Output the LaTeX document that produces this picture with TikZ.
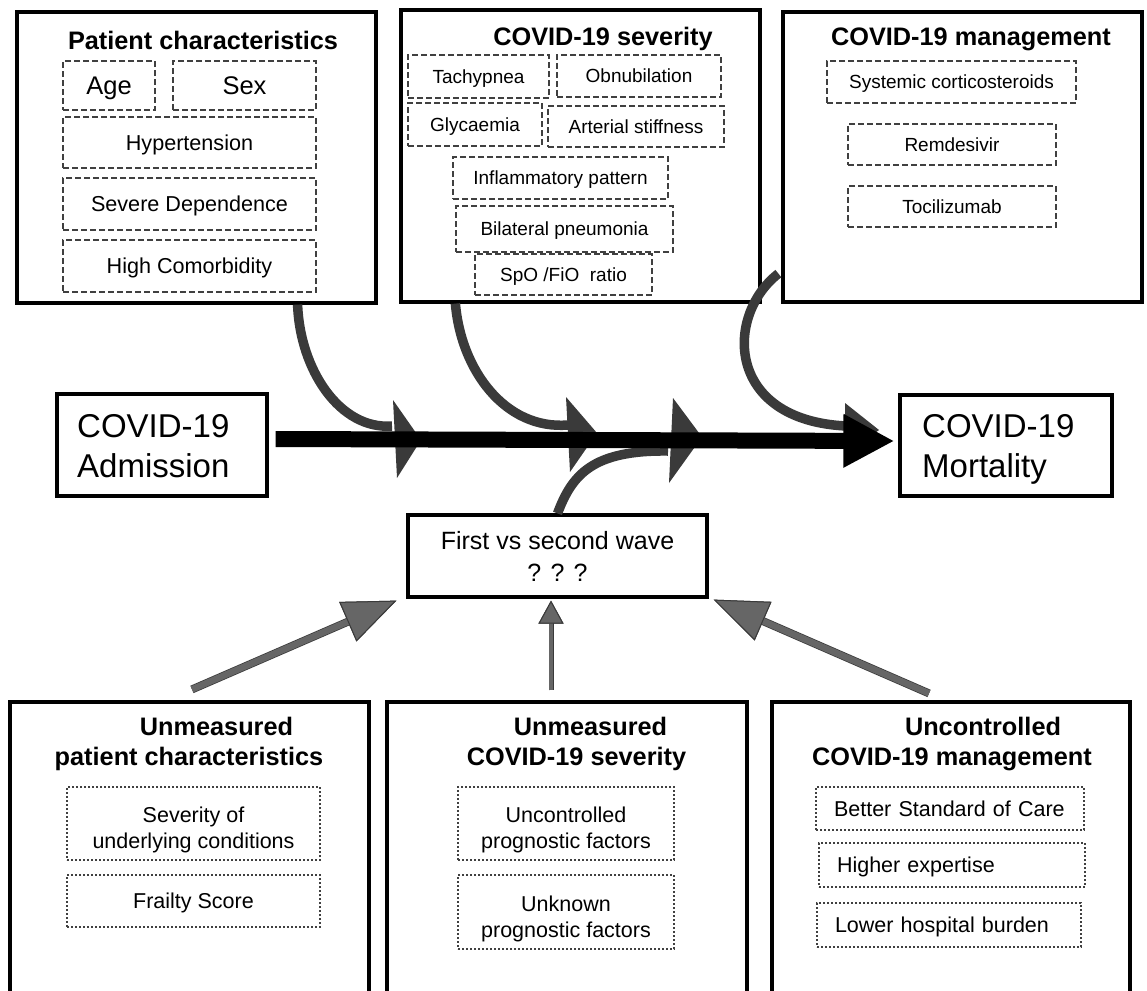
\documentclass[tikz,border=0pt]{standalone}
\usepackage{fontspec}
\setmainfont{Liberation Sans}
\usetikzlibrary{arrows.meta}
\definecolor{D1}{RGB}{58,58,58}
\definecolor{G1}{RGB}{102,102,102}
\definecolor{L1}{RGB}{64,64,64}

\begin{document}
\begin{tikzpicture}[x=1pt,y=-1pt,
    panel/.style={draw, line width=3.2pt, inner sep=0pt},
    head/.style={font=\bfseries\fontsize{25.3}{30.5}\selectfont, inner sep=0pt, align=center},
    big/.style={font=\fontsize{33}{40.5}\selectfont, inner sep=0pt, align=left},
    tag/.style={draw=L1, line width=1.3pt, dash pattern=on 6pt off 3pt, inner sep=0pt, text height=13.7pt, text depth=0pt, font=\fontsize{19}{23}\selectfont},
    tagl/.style={tag, text height=15.6pt, font=\fontsize{21.6}{26}\selectfont},
    tagxl/.style={tag, text height=18.4pt, font=\fontsize{25.5}{30}\selectfont},
    hint/.style={draw=L1, line width=1.3pt, dash pattern=on 2pt off 2pt, inner sep=0pt, align=center, font=\fontsize{21.5}{26}\selectfont},
    cause/.style={draw=D1, line width=9.5pt},
    barb/.style={fill=D1},
    push/.style={draw=G1, line width=#1, preaction={draw=D1, line width=#1+1.5pt}}
  ]
\useasboundingbox (0,0) rectangle (1147,990);

\node[panel, minimum width=359pt, minimum height=291pt] (pc) at (196.5,157.5) {};
\node[head] (pctitle) at (203,40) {Patient characteristics};
\node[tagxl, minimum width=92pt, minimum height=49pt] (age) at (109,85.5) {Age};
\node[tagxl, minimum width=143pt, minimum height=49pt] (sex) at (244.5,85.5) {Sex};
\node[tagl, minimum width=253pt, minimum height=51pt] (hyp) at (189.5,142.5) {Hypertension};
\node[tagl, minimum width=253pt, minimum height=52pt] (dep) at (189.5,204) {Severe Dependence};
\node[tagl, minimum width=253pt, minimum height=52pt] (com) at (189.5,266) {High Comorbidity};

\node[panel, minimum width=359pt, minimum height=292pt] (sev) at (580.5,156) {};
\node[head] (sevtitle) at (603,39) {COVID-19 severity};
\node[tag, minimum width=141pt, minimum height=43pt] (tach) at (478.5,76.5) {Tachypnea};
\node[tag, minimum width=164pt, minimum height=42pt] (obn) at (639,76) {Obnubilation};
\node[tag, minimum width=134pt, minimum height=43pt] (gly) at (475,124.5) {Glycaemia};
\node[tag, minimum width=176pt, minimum height=41pt] (art) at (636,126.5) {Arterial stiffness};
\node[tag, minimum width=215pt, minimum height=42pt] (infl) at (560.5,178) {Inflammatory pattern};
\node[tag, minimum width=217pt, minimum height=46pt] (pneu) at (564.5,229) {Bilateral pneumonia};
\node[tag, minimum width=177pt, minimum height=41pt] (spo) at (563.5,274.5) {SpO /FiO\ \ ratio};

\node[panel, minimum width=359pt, minimum height=290pt] (man) at (962.5,157) {};
\node[head] (mantitle) at (971,39.5) {COVID-19 management};
\node[tag, minimum width=249pt, minimum height=42pt] (cort) at (951.5,82) {Systemic corticosteroids};
\node[tag, minimum width=208pt, minimum height=41pt] (rem) at (952,144.5) {Remdesivir};
\node[tag, minimum width=208pt, minimum height=41pt] (toc) at (952,206.5) {Tocilizumab};

\node[panel, minimum width=210pt, minimum height=102pt] (adm) at (162,445) {};
\node[big, anchor=north west] (admtext) at (77,414) {COVID-19\\Admission};
\node[panel, minimum width=212pt, minimum height=101pt] (mort) at (1006,445.5) {};
\node[big, anchor=north west] (morttext) at (922,414) {COVID-19\\Mortality};

\node[panel, minimum width=299pt, minimum height=82pt, font=\fontsize{25}{32}\selectfont, align=center] (wave) at (557.5,556) {First vs second wave\\? ? ?};

\node[panel, minimum width=359pt, minimum height=308pt] (up) at (189.5,856) {};
\node[head] (uptitle) at (189,744) {\hspace*{55pt}Unmeasured\\patient characteristics};
\node[hint, minimum width=253pt, minimum height=73pt] (cond) at (193.5,823.5) {\rule{0pt}{29pt}Severity of\\underlying conditions};
\node[hint, minimum width=253pt, minimum height=52pt, text height=15.5pt, text depth=0pt] (frail) at (193.5,901) {Frailty Score};

\node[panel, minimum width=360pt, minimum height=308pt] (us) at (567,856) {};
\node[head] (ustitle) at (576.5,744) {\hspace*{28pt}Unmeasured\\COVID-19 severity};
\node[hint, minimum width=216pt, minimum height=73pt] (unc) at (566,823.5) {\rule{0pt}{29pt}Uncontrolled\\prognostic factors};
\node[hint, minimum width=216pt, minimum height=74pt] (unk) at (566,912) {\rule{0pt}{29pt}Unknown\\prognostic factors};

\node[panel, minimum width=358pt, minimum height=308pt] (um) at (951,856) {};
\node[head] (umtitle) at (952,744) {\hspace*{62pt}Uncontrolled\\COVID-19 management};
\node[hint, align=left, text width=232pt, inner xsep=18pt, text height=15.5pt, text depth=0pt, minimum height=43pt] (soc) at (950,808.5) {Better Standard of Care};
\node[hint, align=left, text width=230pt, inner xsep=18pt, text height=15.5pt, text depth=0pt, minimum height=44pt] (expt) at (952,865) {Higher expertise};
\node[hint, align=left, text width=228pt, inner xsep=18pt, text height=15.5pt, text depth=0pt, minimum height=44pt] (load) at (949,925) {Lower hospital burden};

\coordinate (c1) at (392,426);
\coordinate (c2) at (568,425);
\coordinate (c3) at (668,451);
\coordinate (c4) at (846,426);
\draw[cause] ([xshift=-80pt]pc.south east) .. controls (300,370) and (340,430) .. (c1);
\draw[cause] ([xshift=56pt]sev.south west) .. controls (461,370) and (505,430) .. (c2);
\draw[cause] (wave.north) .. controls (572,475) and (592,450) .. (c3);
\draw[cause] ([shift={(-3pt,30pt)}]man.south west) .. controls (725,315) and (725,420) .. (c4);
\fill[barb] (393,400) -- (397,478) -- (421,440) -- cycle;
\fill[barb] (566,397) -- (570,472) -- (597,433) -- cycle;
\fill[barb] (673,398) -- (669,483) -- (702,437) -- cycle;
\fill[barb] (845,403) -- (845,455) -- (879,430) -- cycle;
\draw[line width=16pt, -{Triangle[length=51pt,width=50pt]}] ([shift={(7pt,6pt)}]adm.east) -- ([shift={(-4pt,4.5pt)}]mort.west);

\draw[push=6.5pt, -{Triangle[length=53pt,width=43pt,color=D1,fill=G1,line width=1pt]}] ([shift={(2.5pt,11pt)}]up.north) -- ([shift={(-10pt,-2pt)}]wave.south west);
\draw[push=3.5pt, -{Triangle[length=23pt,width=25pt,color=D1,fill=G1,line width=1pt]}] ([shift={(-16pt,10pt)}]us.north) -- ([shift={(-6.5pt,-2pt)}]wave.south);
\draw[push=6.5pt, -{Triangle[length=54pt,width=42pt,color=D1,fill=G1,line width=1pt]}] ([shift={(-22pt,7pt)}]um.north) -- ([shift={(5pt,-1pt)}]wave.south east);
\end{tikzpicture}
\end{document}
